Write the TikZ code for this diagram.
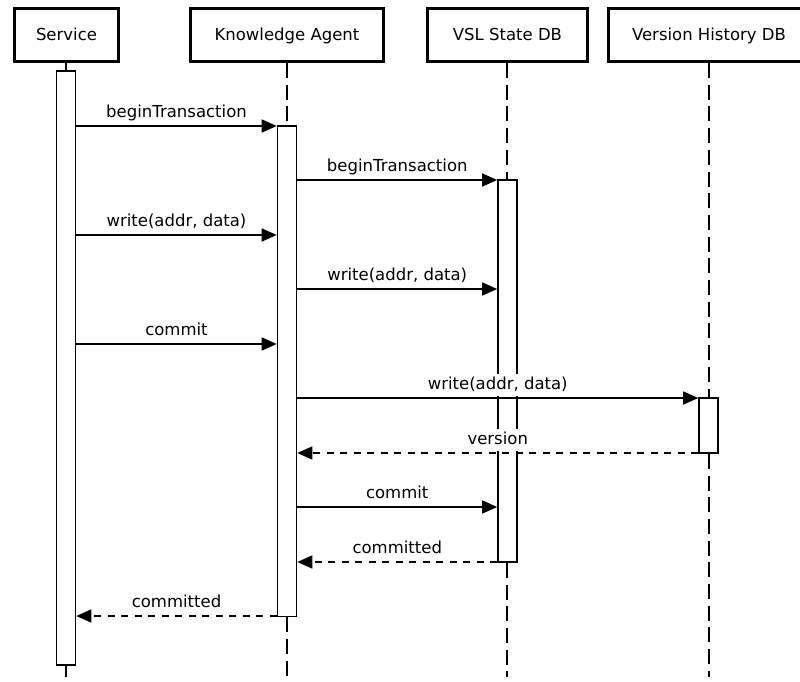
\documentclass[tikz,border=0pt]{standalone}
\usepackage{fontspec}
\setmainfont{DejaVu Sans}
\usetikzlibrary{arrows.meta}
\begin{document}
\begin{tikzpicture}[x=1pt,y=-1pt,
  font=\fontsize{16.5}{19.5}\selectfont,
  actor/.style={draw, line width=3pt, minimum height=53.5pt, inner sep=0pt, fill=white,
                text height=13pt, text depth=1pt},
  life/.style={line width=1.6pt, dash pattern=on 15pt off 6.7pt},
  act/.style={draw, line width=1.6pt, fill=white, minimum width=19pt, inner sep=0pt},
  msg/.style={line width=1.5pt, -{Triangle[length=15pt,width=13pt]}},
  reply/.style={msg, dash pattern=on 7pt off 6.5pt},
  lbl/.style={fill=white, anchor=south, inner xsep=3pt, inner ysep=3pt,
              text height=12pt, text depth=4pt, yshift=1pt}
]
\clip (0,0) rectangle (800,681);

% participants
\node[actor, minimum width=104.5pt] (svc) at (66.5,34.75) {Service};
\node[actor, minimum width=193pt]   (ka)  at (287,34.75)  {Knowledge Agent};
\node[actor, minimum width=159.5pt] (vsl) at (507.5,34.75) {VSL State DB};
\node[actor, minimum width=202pt]   (vh)  at (709,34.75)  {Version History DB};

% activation bars
\node[act, minimum height=594pt]   (sa)   at (66,368)     {};
\node[act, minimum height=490.5pt] (kaa)  at (287,371.25) {};
\node[act, minimum height=382pt]   (vsla) at (507.5,371)  {};
\node[act, minimum height=55pt]    (vha)  at (708.5,425.5) {};

% lifelines, broken by the activation bars
\coordinate (svcEnd) at (66,677);
\coordinate (kaEnd)  at (287,677);
\coordinate (vslEnd) at (507,677);
\coordinate (vhEnd)  at (709,677);
\draw[life] (svc.south -| svcEnd) -- (sa.north -| svcEnd);
\draw[life] (sa.south -| svcEnd) -- (svcEnd);
\draw[life] (ka.south -| kaEnd) -- (kaa.north -| kaEnd);
\draw[life] (kaa.south -| kaEnd) -- (kaEnd);
\draw[life] (vsl.south -| vslEnd) -- (vsla.north -| vslEnd);
\draw[life] (vsla.south -| vslEnd) -- (vslEnd);
\draw[life] (vh.south -| vhEnd) -- (vha.north -| vhEnd);
\draw[life] (vha.south -| vhEnd) -- (vhEnd);

% messages
\draw[msg]   (sa.east   |- 0,126) -- node[lbl] {beginTransaction}  (kaa.west  |- 0,126);
\draw[msg]   (kaa.east  |- 0,180) -- node[lbl] {beginTransaction}  (vsla.west |- 0,180);
\draw[msg]   (sa.east   |- 0,235) -- node[lbl] {write(addr, data)} (kaa.west  |- 0,235);
\draw[msg]   (kaa.east  |- 0,289) -- node[lbl] {write(addr, data)} (vsla.west |- 0,289);
\draw[msg]   (sa.east   |- 0,344) -- node[lbl] {commit}            (kaa.west  |- 0,344);
\draw[msg]   (kaa.east  |- 0,398) -- node[lbl] {write(addr, data)} (vha.west  |- 0,398);
\draw[reply] (vha.west  |- 0,453) -- node[lbl] {version}           (kaa.east  |- 0,453);
\draw[msg]   (kaa.east  |- 0,507) -- node[lbl] {commit}            (vsla.west |- 0,507);
\draw[reply] (vsla.west |- 0,562) -- node[lbl] {committed}         (kaa.east  |- 0,562);
\draw[reply] (kaa.west  |- 0,616) -- node[lbl] {committed}         (sa.east   |- 0,616);
\end{tikzpicture}
\end{document}
